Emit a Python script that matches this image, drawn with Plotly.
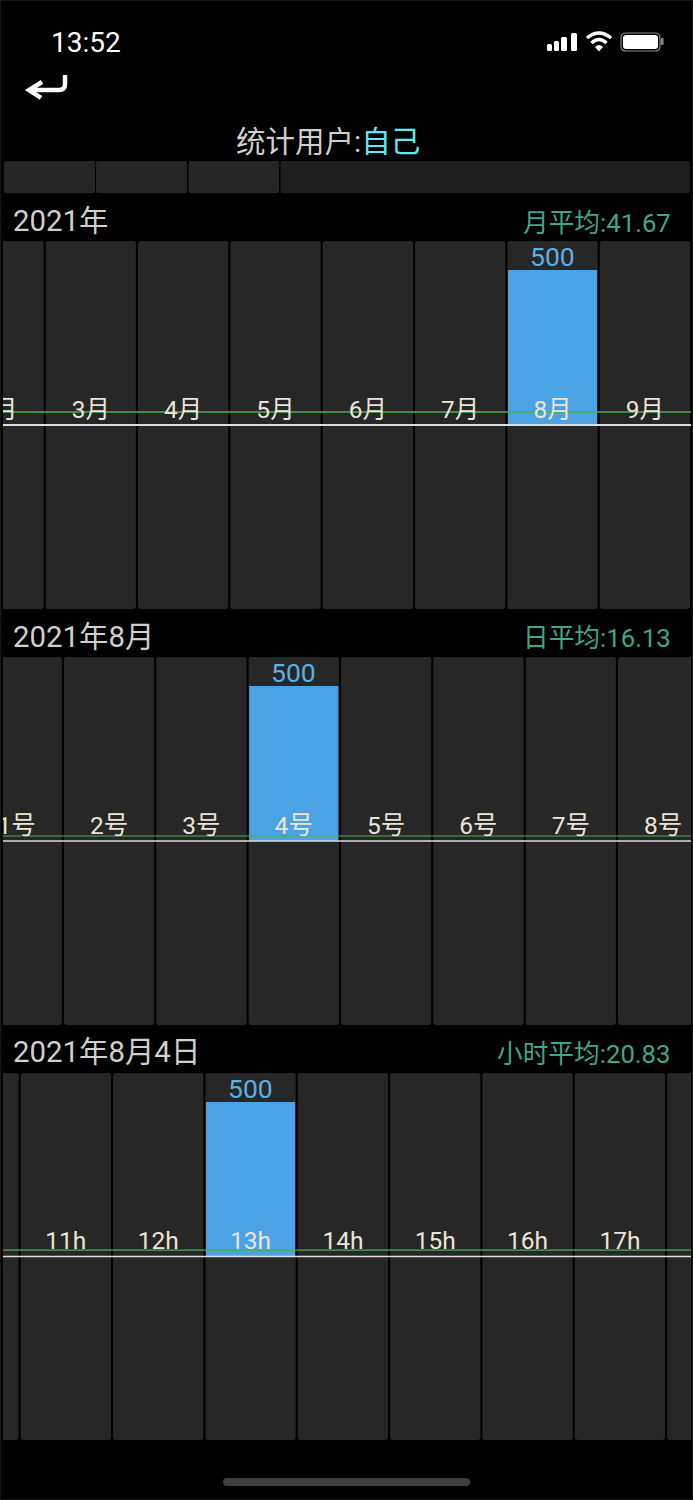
import plotly.graph_objects as go

W, H = 693, 1500
FONT = "Roboto, 'Noto Sans CJK SC', sans-serif"

# ---- data ----
months = [2, 3, 4, 5, 6, 7, 8, 9]
month_labels = ["2月", "3月", "4月", "5月", "6月", "7月", "8月", "9月"]
month_values = [0, 0, 0, 0, 0, 0, 500, 0]
month_avg = 41.67

days = [1, 2, 3, 4, 5, 6, 7, 8]
day_labels = ["1号", "2号", "3号", "4号", "5号", "6号", "7号", "8号"]
day_values = [0, 0, 0, 500, 0, 0, 0, 0]
day_avg = 16.13

hours = [10, 11, 12, 13, 14, 15, 16, 17, 18]
hour_labels = ["10h", "11h", "12h", "13h", "14h", "15h", "16h", "17h", "18h"]
hour_values = [0, 0, 0, 500, 0, 0, 0, 0, 0]
hour_avg = 20.83

y_limit = 593.5
label_lift = 4

COL_TRACK = "#272727"
COL_BAR = "#4BA3E3"
COL_VALUE = "#5CB0E6"
COL_LABEL = "#EAE5D6"
COL_AVG = "#4CAF50"
COL_ZERO = "#DDDDDD"
COL_HEAD = "#CFCFCF"
COL_AVGTXT = "#3FA687"


def fx(x):
    return x / W


def fy(y):
    return 1 - y / H


def path(*cmds):
    out = []
    for c in cmds:
        if isinstance(c, str):
            out.append(c)
        else:
            out.append(f"{fx(c[0]):.5f},{fy(c[1]):.5f}")
    return " ".join(out)


def rrect(x0, y0, x1, y1, r):
    return path("M", (x0 + r, y0), "L", (x1 - r, y0), "Q", (x1, y0), (x1, y0 + r),
                "L", (x1, y1 - r), "Q", (x1, y1), (x1 - r, y1),
                "L", (x0 + r, y1), "Q", (x0, y1), (x0, y1 - r),
                "L", (x0, y0 + r), "Q", (x0, y0), (x0 + r, y0), "Z")


fig = go.Figure()

panels = [
    ("", months, month_labels, month_values, month_avg, 241, 609, 90.8, 3, 2.0, 1.5),
    ("2", days, day_labels, day_values, day_avg, 657, 1025, 16.7, 1, 1.4, 1.2),
    ("3", hours, hour_labels, hour_values, hour_avg, 1073, 1440, -26.5, 10, 1.4, 1.2),
]
SPACING = 92.35
PX_L, PX_R = 3, 691
layout_axes = {}
value_notes = []

for sfx, xs, labels, vals, avg, top, bottom, first_px, first_x, zero_w, avg_w in panels:
    xa, ya = "x" + sfx, "y" + sfx
    lo = first_x + (PX_L - first_px) / SPACING
    hi = first_x + (PX_R - first_px) / SPACING
    # column tracks
    fig.add_trace(go.Bar(x=xs, y=[2 * y_limit] * len(xs), base=[-y_limit] * len(xs), width=0.978,
                         marker=dict(color=COL_TRACK, line=dict(width=0), cornerradius=3),
                         xaxis=xa, yaxis=ya, hoverinfo="skip", showlegend=False))
    # value bars
    fig.add_trace(go.Bar(x=xs, y=vals, width=0.965,
                         marker=dict(color=COL_BAR, line=dict(width=0), cornerradius=3),
                         xaxis=xa, yaxis=ya, showlegend=False))
    # average line
    fig.add_trace(go.Scatter(x=[lo, hi], y=[avg, avg], mode="lines",
                             line=dict(color=COL_AVG, width=avg_w), xaxis=xa, yaxis=ya,
                             showlegend=False))
    # axis baseline
    fig.add_trace(go.Scatter(x=[lo, hi], y=[0, 0], mode="lines",
                             line=dict(color=COL_ZERO, width=zero_w), xaxis=xa, yaxis=ya,
                             showlegend=False))
    # category labels sitting on the baseline
    fig.add_trace(go.Scatter(x=xs, y=[label_lift] * len(xs), mode="text", text=labels,
                             textposition="top center", cliponaxis=True,
                             textfont=dict(family=FONT, size=24.5, color=COL_LABEL),
                             xaxis=xa, yaxis=ya, showlegend=False))
    # value captions above non-empty bars
    for x_val, v in zip(xs, vals):
        if v:
            value_notes.append(dict(xref=xa, yref=ya, x=x_val, y=v, text=str(v), showarrow=False,
                                    xanchor="center", yanchor="middle", yshift=13,
                                    font=dict(family=FONT, size=26.5, color=COL_VALUE)))
    layout_axes["xaxis" + sfx] = dict(domain=[fx(PX_L), fx(PX_R)], range=[lo, hi], visible=False,
                                      anchor=ya, fixedrange=True)
    layout_axes["yaxis" + sfx] = dict(domain=[fy(bottom), fy(top)], range=[-y_limit, y_limit],
                                      visible=False, anchor=xa, fixedrange=True)


def note(px, py, text, size, color, anchor="left"):
    return dict(xref="paper", yref="paper", x=fx(px), y=fy(py), text=text, showarrow=False,
                xanchor=anchor, yanchor="middle", align=anchor,
                font=dict(family=FONT, size=size, color=color), borderpad=0, borderwidth=0)


annotations = value_notes + [
    note(51, 42, "13:52", 28, "#FFFFFF"),
    note(236, 142, '统计用户:<span style="color:#5EEBF0">自己</span>', 29.5, COL_HEAD),
    note(13, 221, "2021年", 29.4, COL_HEAD),
    note(671, 223, "月平均:41.67", 25.7, COL_AVGTXT, "right"),
    note(13, 636.5, "2021年8月", 29.4, COL_HEAD),
    note(671, 638, "日平均:16.13", 25.7, COL_AVGTXT, "right"),
    note(13, 1052, "2021年8月4日", 29.4, COL_HEAD),
    note(671, 1054, "小时平均:20.83", 25.7, COL_AVGTXT, "right"),
]

shapes = []


def fill(p, color):
    shapes.append(dict(type="path", xref="paper", yref="paper", path=p,
                       fillcolor=color, line=dict(width=0), layer="above"))


def stroke(p, color, width):
    shapes.append(dict(type="path", xref="paper", yref="paper", path=p,
                       line=dict(color=color, width=width), layer="above"))


# top strip
for x0, x1, c in [(4, 95, "#262626"), (96, 187, "#262626"), (188.5, 279, "#262626"), (280.5, 690, "#1F1F1F")]:
    fill(rrect(x0, 161, x1, 193, 2), c)

# signal bars
for x0, x1, y0 in [(547, 552, 44), (554, 559, 41), (561, 567, 37), (571, 577, 33)]:
    fill(rrect(x0, y0, x1, 51, 1.5), "#FFFFFF")

# wifi
stroke(path("M", (587, 38), "Q", (599, 28), (611, 38)), "#FFFFFF", 3.5)
stroke(path("M", (591.5, 43), "Q", (599, 36), (606.5, 43)), "#FFFFFF", 3.5)
fill(path("M", (595, 47), "Q", (599, 43), (603, 47), "L", (599, 51.5), "Z"), "#FFFFFF")

# battery
stroke(rrect(621, 33, 660, 51, 5), "#8A8A8A", 1.2)
fill(rrect(623, 35, 658, 49, 3), "#FFFFFF")
fill(rrect(661, 38, 663.5, 45, 1), "#8A8A8A")

# back arrow
stroke(path("M", (65, 75), "L", (65, 84), "Q", (65, 90), (59, 90), "L", (30, 90)), "#FFFFFF", 4.5)
stroke(path("M", (42, 82), "L", (29, 90), "L", (41, 98)), "#FFFFFF", 4.5)

# home indicator
fill(rrect(223, 1478, 470, 1486, 4), "#3E3E3E")

# outer hairline
shapes.append(dict(type="rect", xref="paper", yref="paper", x0=0, y0=0, x1=1, y1=1,
                   line=dict(color="#161616", width=2), layer="above"))

fig.update_layout(
    width=W, height=H, margin=dict(l=0, r=0, t=0, b=0, pad=0),
    paper_bgcolor="#000000", plot_bgcolor="rgba(0,0,0,0)",
    barmode="overlay", showlegend=False,
    annotations=annotations, shapes=shapes, **layout_axes,
)

fig.write_html("out.html", config=dict(displayModeBar=False),
               post_script="document.body.style.margin='0';document.body.style.overflow='hidden';document.body.style.background='#000';")
